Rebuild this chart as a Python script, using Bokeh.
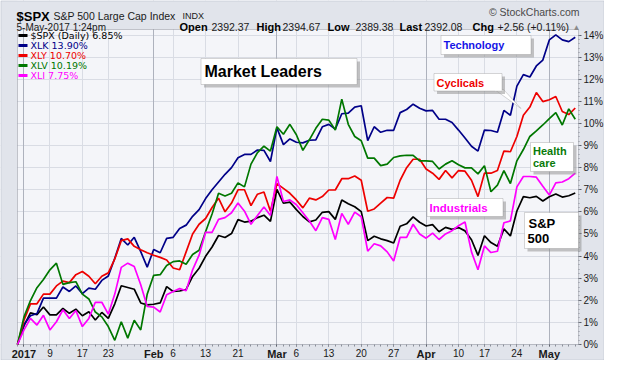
from bokeh.plotting import figure
from bokeh.models import (Range1d, FixedTicker, Grid, Label, LinearAxis,
                          BoxAnnotation, PolyAnnotation)
from bokeh.embed import file_html
from bokeh.resources import INLINE

# ---------------- data (percent change since 30-Dec-2016, trading-day index) ----------------
spx = [0.00, 0.85, 1.43, 1.35, 1.70, 1.34, 1.34, 1.63, 1.41, 1.60, 1.30, 1.48, 1.11, 1.45, 1.18,
       1.84, 2.66, 2.58, 2.50, 1.88, 1.79, 1.82, 1.88, 2.62, 2.40, 2.42, 2.49, 3.08, 3.45, 3.99,
       4.41, 4.93, 4.84, 5.02, 5.65, 5.54, 5.58, 5.74, 5.85, 5.57, 7.02, 6.39, 6.44, 6.10, 5.79,
       5.55, 5.63, 5.98, 6.01, 5.66, 6.54, 6.37, 6.23, 6.01, 4.70, 4.90, 4.78, 4.70, 4.59, 5.35,
       5.46, 5.77, 5.53, 5.36, 5.42, 5.10, 5.30, 5.21, 5.29, 5.14, 4.74, 4.03, 4.92, 4.61, 4.44,
       5.23, 4.91, 6.04, 6.69, 6.64, 6.70, 6.49, 6.68, 6.81, 6.67, 6.73, 6.85]
xlk = [0.00, 0.90, 1.30, 1.40, 2.10, 2.10, 2.10, 2.60, 2.40, 2.65, 2.30, 2.55, 2.50, 2.90, 3.10,
       3.90, 4.80, 4.50, 4.85, 4.20, 3.50, 4.30, 4.15, 4.80, 4.85, 5.25, 5.40, 5.80, 6.10, 6.60,
       7.00, 7.35, 7.70, 8.00, 8.45, 8.60, 8.60, 8.80, 8.78, 8.28, 9.80, 9.04, 9.30, 9.15, 9.12,
       9.24, 9.26, 9.85, 9.96, 9.74, 10.44, 10.47, 10.74, 10.80, 9.22, 9.85, 9.60, 9.69, 9.69, 10.49,
       10.63, 10.87, 10.69, 10.57, 10.59, 10.19, 10.19, 10.04, 9.70, 9.34, 8.97, 8.75, 9.70, 9.68, 9.60,
       10.59, 10.37, 11.69, 12.21, 12.10, 12.60, 12.87, 13.78, 14.01, 13.78, 13.70, 13.90]
xly = [0.00, 1.10, 1.84, 1.84, 2.28, 2.28, 2.65, 2.87, 2.80, 3.16, 3.30, 3.09, 2.75, 3.09, 3.24,
       3.87, 4.70, 4.78, 4.44, 4.29, 4.15, 4.04, 3.94, 3.82, 3.46, 3.38, 4.19, 5.00, 5.44, 5.70,
       6.20, 6.62, 6.00, 6.40, 7.00, 7.00, 6.28, 6.80, 6.90, 6.03, 7.28, 7.06, 6.84, 6.54, 6.18,
       6.62, 6.54, 6.69, 6.99, 6.99, 7.50, 7.50, 7.62, 7.43, 6.03, 6.13, 6.40, 6.65, 6.62, 7.43,
       8.00, 8.38, 8.38, 7.94, 7.75, 7.47, 7.87, 7.54, 7.87, 7.84, 7.43, 6.69, 7.75, 7.75, 7.87,
       8.75, 8.72, 9.41, 10.37, 10.74, 11.40, 10.99, 11.07, 11.22, 10.54, 10.40, 10.70]
xlv = [0.00, 1.25, 1.99, 2.57, 2.94, 3.38, 3.68, 2.72, 2.80, 2.84, 2.28, 2.06, 1.47, 1.25, 0.81,
       0.19, 1.03, 0.29, 1.10, 0.66, 2.28, 3.13, 3.16, 3.57, 3.75, 3.78, 3.63, 4.07, 4.26, 5.10,
       5.90, 6.84, 6.72, 6.84, 7.31, 7.13, 8.16, 8.68, 8.97, 8.75, 9.85, 9.51, 9.96, 9.49, 8.78,
       9.26, 9.78, 10.19, 10.15, 9.70, 11.10, 9.96, 9.41, 9.22, 8.43, 8.43, 8.09, 8.16, 8.46, 8.53,
       8.56, 8.56, 8.31, 8.31, 8.28, 7.94, 8.16, 8.31, 8.13, 7.99, 7.99, 7.72, 8.09, 6.91, 7.21,
       7.87, 7.28, 8.31, 8.82, 9.41, 9.66, 9.93, 10.22, 10.49, 9.93, 10.66, 10.19]
xli = [0.00, 0.66, 1.18, 0.88, 1.32, 0.66, 1.03, 1.57, 1.18, 1.54, 0.81, 1.18, 1.91, 1.91, 1.37,
       2.28, 3.49, 3.68, 3.53, 2.70, 1.72, 1.69, 1.47, 2.25, 2.40, 2.53, 2.43, 3.38, 4.04, 5.07,
       5.07, 5.66, 5.74, 5.96, 6.40, 6.03, 5.44, 5.84, 6.22, 5.84, 7.60, 6.47, 6.54, 6.32, 5.96,
       5.59, 5.15, 5.74, 5.66, 4.75, 5.93, 5.44, 5.99, 5.78, 4.22, 4.56, 4.46, 4.19, 3.78, 4.85,
       4.85, 5.44, 5.00, 4.81, 5.04, 4.75, 5.00, 5.15, 5.37, 5.54, 4.19, 3.38, 4.46, 4.16, 4.22,
       5.51, 5.59, 7.13, 7.60, 7.60, 7.57, 7.16, 6.76, 7.31, 7.35, 7.50, 7.75]

day_index = list(range(len(spx)))
tick_pos = [1, 5, 10, 14, 21, 24, 29, 34, 40, 43, 48, 53, 58, 63, 68, 72, 77, 82]
tick_lbl = ["2017", "9", "17", "23", "Feb", "6", "13", "21", "Mar", "6", "13", "20", "27",
            "Apr", "10", "17", "24", "May"]
month_lbls = {"2017", "Feb", "Mar", "Apr", "May"}
y_ticks = list(range(0, 15))

legend_names = ["$SPX (Daily) 6.85%", "XLK 13.90%", "XLY 10.70%", "XLV 10.19%", "XLI 7.75%"]
series = [spx, xlk, xly, xlv, xli]
colors = ["#000000", "#000088", "#ee0000", "#007700", "#ff00ff"]

# ---------------- geometry (canvas pixels) ----------------
W, H = 604, 360
FL, FR, FT, FB = 17, 578, 29, 344          # plot-area edges on the canvas
X0, X1 = 0, 86.5                           # visible trading-day span
Y0, Y1 = 0, 14.25                          # visible percent span
PPX = (FR - FL) / (X1 - X0)
PPY = (FB - FT) / (Y1 - Y0)


def dx(px):
    return X0 + (px - FL) / PPX


def dy(py):
    return Y0 + (FB - py) / PPY


BORDER = "#e1e4eb"
PLOTBG = "#f4f5f9"
FRAME = "#5c606b"

p = figure(width=W, height=H, output_backend="svg", toolbar_location=None,
           x_range=Range1d(dx(0), dx(W)), y_range=Range1d(dy(H), dy(0)),
           x_axis_type=None, y_axis_type=None,
           min_border=0, min_border_left=0, min_border_right=0, min_border_top=0,
           min_border_bottom=0)
p.background_fill_color = PLOTBG
p.border_fill_color = BORDER
p.outline_line_color = None

m_pos = [t for t, l in zip(tick_pos, tick_lbl) if l in month_lbls]
m_lbl = [l for l in tick_lbl if l in month_lbls]
d_pos = [t for t, l in zip(tick_pos, tick_lbl) if l not in month_lbls]

# grids
p.add_layout(Grid(dimension=0, ticker=FixedTicker(ticks=d_pos), grid_line_color="#d9dce4"))
p.add_layout(Grid(dimension=1, ticker=FixedTicker(ticks=y_ticks), grid_line_color="#d9dce4"))
p.add_layout(Grid(dimension=0, ticker=FixedTicker(ticks=m_pos), grid_line_color="#aeb2bd"))

# surround of the plot area
for kw in (dict(bottom=Y1), dict(top=Y0), dict(right=X0), dict(left=X1)):
    p.add_layout(BoxAnnotation(fill_color=BORDER, fill_alpha=1, line_color=None,
                               level="underlay", **kw))
p.add_layout(BoxAnnotation(left=X0, right=X1, bottom=Y0, top=Y1, fill_alpha=0,
                           line_color=FRAME, line_width=1, level="underlay"))
p.add_layout(BoxAnnotation(left=dx(0.5), right=dx(W - 0.5), bottom=dy(H - 0.5), top=dy(0.5),
                           fill_alpha=0, line_color="#9ca1ad", line_width=1, level="underlay"))


def make_axis(side, loc, ticks, labels, size, bold, minor=None, tick_out=0, standoff=2):
    ax = LinearAxis(ticker=FixedTicker(ticks=ticks, minor_ticks=minor or []), fixed_location=loc,
                    major_label_overrides={t: l for t, l in zip(ticks, labels)})
    ax.major_label_text_font = "Liberation Sans"
    ax.major_label_text_font_style = "bold" if bold else "normal"
    ax.major_label_text_font_size = size
    ax.major_label_text_color = "#1a1a1a"
    ax.axis_line_color = None
    ax.major_tick_in = 0
    ax.minor_tick_in = 0
    ax.major_tick_out = tick_out
    ax.minor_tick_out = 2 if minor else 0
    ax.major_tick_line_color = FRAME if tick_out else None
    ax.minor_tick_line_color = "#8a8e99" if minor else None
    ax.major_label_standoff = standoff
    p.add_layout(ax, side)
    return ax


# x axis: day numbers (regular) + month names (bold) on the bottom edge
make_axis("below", Y0, d_pos, [l for l in tick_lbl if l not in month_lbls], "10px", False,
          minor=day_index, tick_out=2, standoff=2)
make_axis("below", Y0, m_pos, m_lbl, "11px", True, tick_out=2, standoff=1)
# y axis on the right
ya = make_axis("right", X1, y_ticks, [f"{v}%" for v in y_ticks], "10px", False,
               minor=[round(v * 0.2, 1) for v in range(0, 71)], tick_out=3, standoff=2)
ya.minor_tick_out = 1

# series lines
for s, c in zip(series, colors):
    p.line(x=day_index, y=s, line_color=c, line_width=1.7)

# legend (top-left)
for k, (name, c) in enumerate(zip(legend_names, colors)):
    ry = FT + 6 + 10 * k
    p.add_layout(BoxAnnotation(left=dx(18), right=dx(27), top=dy(ry - 1.5), bottom=dy(ry + 1.5),
                               fill_color=c, fill_alpha=1, line_color=None))
    p.add_layout(Label(x=dx(30), y=dy(ry), text=name, text_align="left", text_baseline="middle",
                       text_font="DejaVu Sans", text_font_size="9.5px", text_color=c))


def callout_box(x0, y0, x1, y1):
    p.add_layout(BoxAnnotation(left=dx(x0 + 3), right=dx(x1 + 3), top=dy(y0 + 3), bottom=dy(y1 + 3),
                               fill_color="#8c8c8c", fill_alpha=0.5, line_color=None))
    p.add_layout(BoxAnnotation(left=dx(x0), right=dx(x1), top=dy(y0), bottom=dy(y1),
                               fill_color="#ffffff", fill_alpha=1, line_color="#7a7a7a",
                               line_width=1))


def text(x, y, t, color, size, bold=True, align="left", baseline="middle"):
    p.add_layout(Label(x=dx(x), y=dy(y), text=t, text_align=align, text_baseline=baseline,
                       text_font="Liberation Sans", text_font_style="bold" if bold else "normal",
                       text_font_size=size, text_color=color))


# Market Leaders
callout_box(200.5, 58, 356.5, 84)
text(204, 71, "Market Leaders", "#000000", "16px")
# Technology
callout_box(440.5, 35, 530.5, 54)
text(443, 44.5, "Technology", "#1515e6", "11px")
# Cyclicals with pointer
p.add_layout(PolyAnnotation(xs=[dx(494), dx(503), dx(520.5)], ys=[dy(89), dy(89), dy(108)],
                            fill_color="#ffffff", fill_alpha=1, line_color="#7a7a7a",
                            line_width=1))
callout_box(433.5, 73, 501.5, 90.5)
p.add_layout(PolyAnnotation(xs=[dx(494.5), dx(502.5), dx(502.5)], ys=[dy(90), dy(90), dy(90)],
                            fill_alpha=0, line_color="#ffffff", line_width=1.5))
text(436, 82, "Cyclicals", "#ee0000", "11px")
# Health care
callout_box(530, 142, 573, 171)
text(532.5, 150.5, "Health", "#0a7a0a", "11px")
text(532.5, 162.5, "care", "#0a7a0a", "11px")
# Industrials
callout_box(426.5, 198, 502.5, 216)
text(429, 207, "Industrials", "#ff00ff", "11.5px")
# S&P 500
callout_box(524, 212, 578, 248)
text(528, 222.5, "S&P", "#000000", "13px")
text(527, 238, "500", "#000000", "13px")

# ---------------- header ----------------
L1, L2 = 15.5, 26.5
text(16, L1, "$SPX", "#000000", "13px", baseline="alphabetic")
text(53, L1, "S&P 500 Large Cap Index", "#1a1a1a", "10.5px", bold=False, baseline="alphabetic")
text(182, L1, "INDX", "#1a1a1a", "9px", bold=False, baseline="alphabetic")
text(579, 11.5, "\u00a9 StockCharts.com", "#4a4a4a", "10.5px", bold=False, align="right",
     baseline="alphabetic")
text(16, L2, "5-May-2017 1:24pm", "#1a1a1a", "10px", bold=False, baseline="alphabetic")
segments = [(179, "Open", True), (211, "2392.37", False), (256, "High", True),
            (282, "2394.67", False), (327, "Low", True), (355, "2389.38", False),
            (399, "Last", True), (424, "2392.08", False), (472, "Chg", True),
            (497, "+2.56 (+0.11%)", False)]
for x, t, b in segments:
    text(x, L2, t, "#000000" if b else "#1a1a1a", "11px" if b else "10.5px", bold=b,
         baseline="alphabetic")
text(572, L2, "\u25b2", "#8a8a8a", "8px", bold=False, baseline="alphabetic")

open("out.html", "w").write(file_html(p, INLINE))
